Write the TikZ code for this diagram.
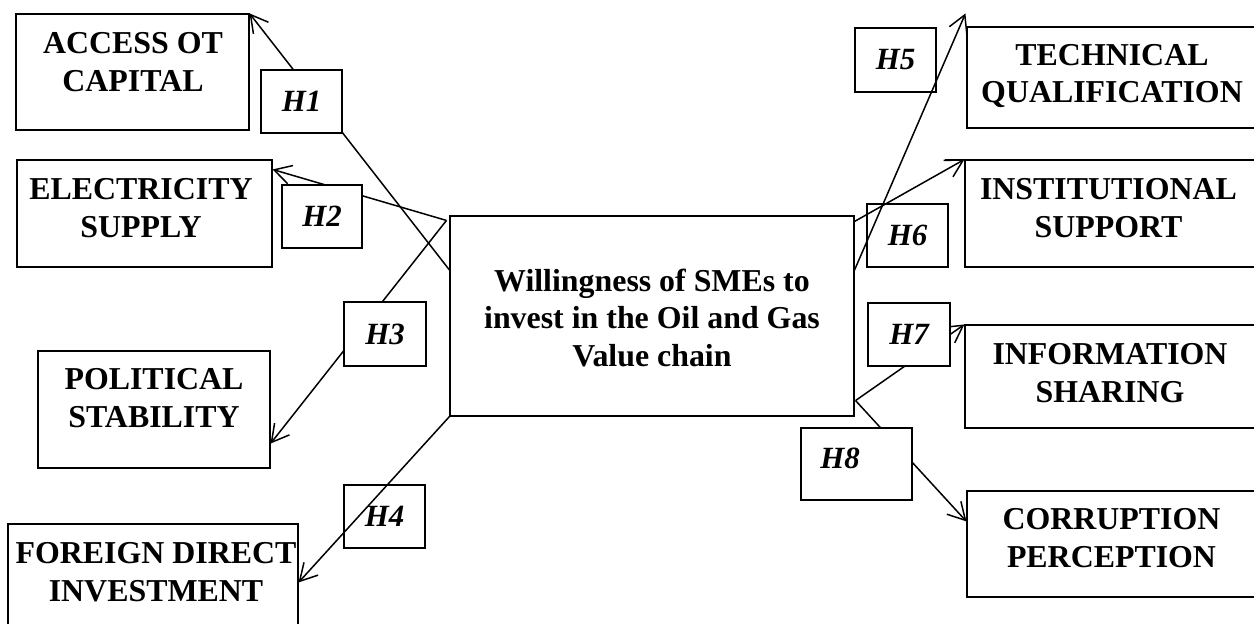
\documentclass[tikz,border=0pt]{standalone}
\usepackage{fontspec}
\setmainfont{Liberation Serif}
\usetikzlibrary{arrows.meta,calc}
\begin{document}
\begin{tikzpicture}[x=1bp,y=-1bp,
  box/.style={draw, line width=1.1bp, inner sep=0pt},
  txt/.style={align=center, inner sep=0pt, font=\fontsize{32}{38}\selectfont\bfseries},
  htxt/.style={inner sep=0pt, font=\fontsize{31}{36}\selectfont\bfseries\itshape},
  hbox/.style={box, font=\fontsize{31}{36}\selectfont\bfseries\itshape},
  link/.style={line width=1.5bp, -{Straight Barb[length=17bp,width=19bp]}}]
\useasboundingbox (0,0) rectangle (1254,624);
\clip (0,0) rectangle (1254,624);
% main boxes
\node[box, minimum width=233bp, minimum height=116bp] (acc) at (132.5,72) {};
\node[txt] (acct) at (133,62) {ACCESS OT\\CAPITAL};
\node[box, minimum width=255bp, minimum height=107bp] (elec) at (144.5,213.5) {};
\node[txt] (elect) at (141,208) {ELECTRICITY\\SUPPLY};
\node[box, minimum width=232bp, minimum height=117bp] (pol) at (154,409.5) {};
\node[txt] (polt) at (154,398.5) {POLITICAL\\STABILITY};
\node[box, minimum width=290bp, minimum height=116bp] (fdi) at (153,582) {};
\node[txt] (fdit) at (156,572.5) {FOREIGN DIRECT\\INVESTMENT};
\node[box, minimum width=293bp, minimum height=101bp] (tech) at (1113.5,77.5) {};
\node[txt] (techt) at (1112,76) {TECHNICAL\\QUALIFICATION};
\node[box, minimum width=295bp, minimum height=107bp] (inst) at (1112.5,213.5) {};
\node[txt] (instt) at (1108.5,208) {INSTITUTIONAL\\SUPPORT};
\node[box, minimum width=295bp, minimum height=103bp] (info) at (1112.5,376.5) {};
\node[txt] (infot) at (1110,373) {INFORMATION\\SHARING};
\node[box, minimum width=293bp, minimum height=106bp] (corr) at (1113.5,544) {};
\node[txt] (corrt) at (1111.5,538.5) {CORRUPTION\\PERCEPTION};
\node[box, minimum width=404bp, minimum height=200bp] (cen) at (652,316) {};
\node[txt] (cent) at (652,318) {Willingness of SMEs to\\invest in the Oil and Gas\\Value chain};
\draw[line width=1.1bp] (inst.north west) -- ++(-19,0);
% connectors hidden under H boxes
\draw[link] ($(cen.west)+(0,-46)$) -- (acc.north east);
\draw[link] ($(cen.north west)+(-3,5)$) -- ($(elec.north east)+(0,10)$);
\draw[link] ($(cen.north west)+(-3,5)$) -- ($(pol.south east)+(0,-25)$);
\draw[link] ($(cen.south east)+(1,-16)$) -- (info.north west);
\draw[link] ($(cen.south east)+(1,-16)$) -- ($(corr.north west)+(0,31)$);
% H boxes
\node[hbox, fill=white, minimum width=81bp, minimum height=63bp] (h1) at (301.5,101.5) {H1};
\node[hbox, fill=white, minimum width=80bp, minimum height=63bp] (h2) at (322,216.5) {H2};
\node[hbox, fill=white, minimum width=82bp, minimum height=64bp] (h3) at (385,334) {H3};
\node[hbox, minimum width=81bp, minimum height=63bp] (h4) at (384.5,516.5) {H4};
\node[hbox, minimum width=81bp, minimum height=64bp] (h5) at (895.5,60) {H5};
\node[hbox, minimum width=81bp, minimum height=63bp] (h6) at (907.5,235.5) {H6};
\node[hbox, fill=white, minimum width=82bp, minimum height=63bp] (h7) at (909,334.5) {H7};
\node[box, fill=white, minimum width=111bp, minimum height=72bp] (h8) at (856.5,464) {};
\node[htxt] (h8t) at (840,458.5) {H8};
% connectors drawn over
\draw[link] (cen.south west) -- ($(fdi.north east)+(0,59)$);
\draw[link] ($(cen.east)+(0,-46)$) -- ($(tech.north west)+(-1,-13)$);
\draw[link] ($(cen.north east)+(0,6)$) -- (inst.north west);
\end{tikzpicture}
\end{document}
